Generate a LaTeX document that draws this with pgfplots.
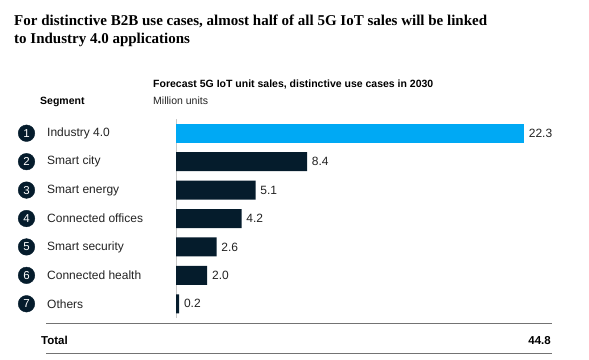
\documentclass[border=0pt]{standalone}
\usepackage{pgfplots}
\pgfplotsset{compat=1.18}
\usepackage{fontspec}
\setmainfont{Liberation Sans}
\newfontfamily\titlefont{Liberation Serif}
\definecolor{navy}{HTML}{051C2C}
\definecolor{cyanbar}{HTML}{00A9F4}
\definecolor{txt}{HTML}{222222}
\begin{document}
\begin{tikzpicture}
\path[use as bounding box] (0,0) rectangle (589pt,-359pt);
% titles
\node[anchor=base west, inner sep=0pt, font=\titlefont\bfseries\fontsize{15}{18}\selectfont, text=black] at (14pt,-25pt) {For distinctive B2B use cases, almost half of all 5G IoT sales will be linked};
\node[anchor=base west, inner sep=0pt, font=\titlefont\bfseries\fontsize{15}{18}\selectfont, text=black] at (14pt,-43.5pt) {to Industry 4.0 applications};
\node[anchor=base west, inner sep=0pt, font=\bfseries\fontsize{10.5}{12}\selectfont, text=black] at (153pt,-87pt) {Forecast 5G IoT unit sales, distinctive use cases in 2030};
\node[anchor=base west, inner sep=0pt, font=\bfseries\fontsize{10.5}{12}\selectfont, text=black] at (40pt,-104pt) {Segment};
\node[anchor=base west, inner sep=0pt, font=\fontsize{10.5}{12}\selectfont, text=txt] at (153pt,-104pt) {Million units};
\begin{axis}[
  at={(176pt,-318pt)}, anchor=south west,
  scale only axis, width=348pt, height=199pt,
  xmin=0, xmax=22.3, ymin=0.5, ymax=7.5,
  clip=false,
  axis x line=none,
  axis y line=left,
  y axis line style={draw=black!22, line width=0.8pt, -},
  major tick length=0pt,
  ytick={1,2,3,4,5,6,7},
  yticklabels={Others, Connected health, Smart security, Connected offices, Smart energy, Smart city, Industry 4.0},
  yticklabel style={anchor=west, inner sep=0pt, xshift=-129pt, font=\fontsize{12}{14}\selectfont, text=txt},
  /pgf/number format/assume math mode=true,
  xbar, bar width=19pt, bar shift=0pt,
  nodes near coords={\pgfmathprintnumber[fixed,fixed zerofill,precision=1,assume math mode=true]{\pgfplotspointmeta}},
  point meta=x,
  every node near coord/.append style={anchor=west, inner sep=0pt, xshift=4.7pt, font=\fontsize{12}{14}\selectfont, text=txt},
]
\addplot[fill=cyanbar, draw=none] coordinates {(22.3,7)};
\addplot[fill=navy, draw=none] coordinates {(8.4,6) (5.1,5) (4.2,4) (2.6,3) (2.0,2) (0.2,1)};
\addplot[xbar=false, only marks, mark=*, mark size=8.3pt, navy,
  point meta=explicit symbolic,
  nodes near coords={\pgfplotspointmeta},
  every node near coord/.style={anchor=center, inner sep=0pt, xshift=0pt, font=\fontsize{11.5}{12}\selectfont, text=white}]
  coordinates {(-9.58,7)[1] (-9.58,6)[2] (-9.58,5)[3] (-9.58,4)[4] (-9.58,3)[5] (-9.58,2)[6] (-9.58,1)[7]};
\end{axis}
% total rows
\draw[black!55, line width=1pt] (46pt,-323pt) -- (551.5pt,-323pt);
\draw[black!55, line width=1pt] (46pt,-353pt) -- (551.5pt,-353pt);
\node[anchor=base west, inner sep=0pt, font=\bfseries\fontsize{11.5}{12}\selectfont] at (41pt,-344pt) {Total};
\node[anchor=base east, inner sep=0pt, font=\bfseries\fontsize{11.5}{12}\selectfont] at (551pt,-344pt) {44.8};
\end{tikzpicture}
\end{document}
